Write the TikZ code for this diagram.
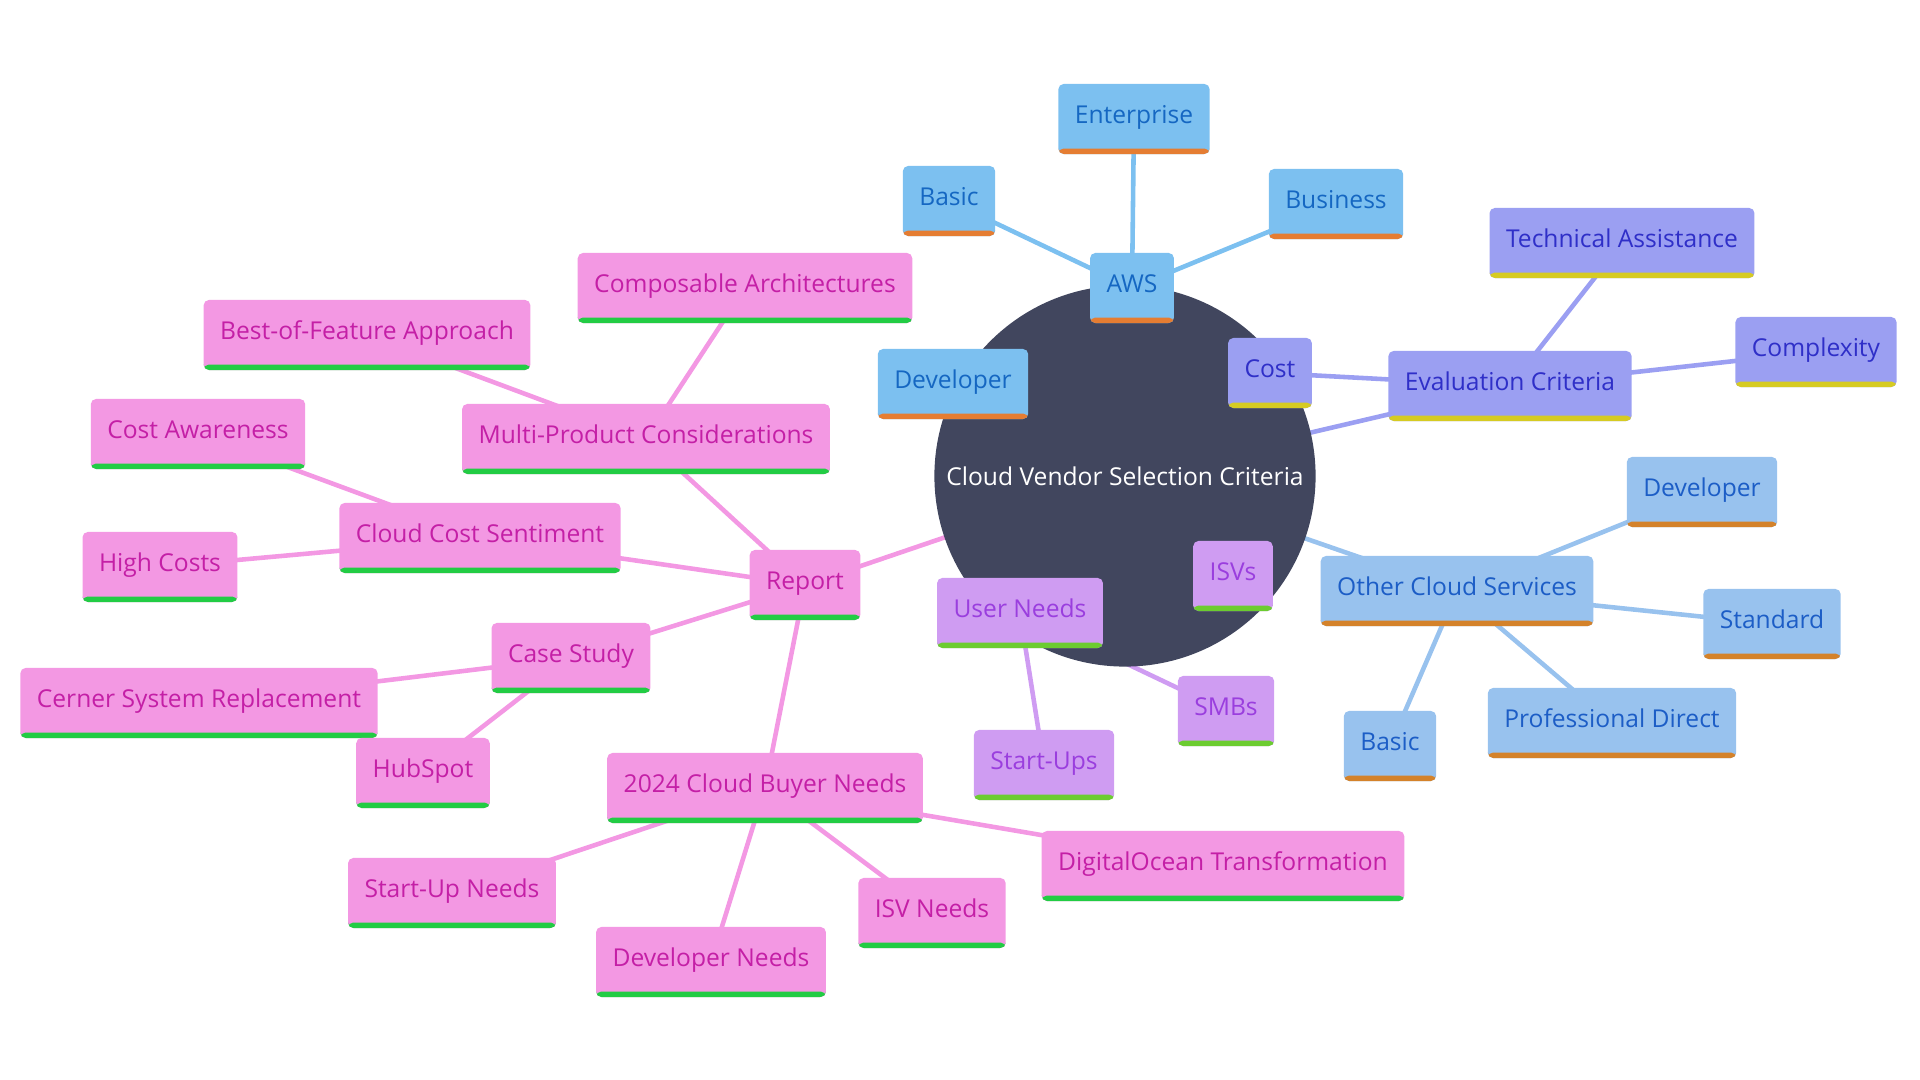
\documentclass[tikz,border=0pt]{standalone}
\usepackage{fontspec}
\setmainfont{Open Sans}
\usetikzlibrary{backgrounds}
\definecolor{rootbg}{HTML}{41465E}
\definecolor{awsfill}{HTML}{7CC0F0}
\definecolor{awstext}{HTML}{1567C2}
\definecolor{awsbar}{HTML}{E57D32}
\definecolor{evalfill}{HTML}{9B9FF2}
\definecolor{evaltext}{HTML}{2F2FC8}
\definecolor{evalbar}{HTML}{D6CB22}
\definecolor{othfill}{HTML}{98C2EE}
\definecolor{othtext}{HTML}{1C5DC6}
\definecolor{othbar}{HTML}{D4822A}
\definecolor{userfill}{HTML}{CF9CF2}
\definecolor{usertext}{HTML}{9A3EDE}
\definecolor{userbar}{HTML}{6CCC30}
\definecolor{repfill}{HTML}{F398E3}
\definecolor{reptext}{HTML}{C41FA6}
\definecolor{repbar}{HTML}{22CC44}

\begin{document}
\begin{tikzpicture}[x=0.01cm, y=-0.01cm, every node/.style={font=\fontsize{7pt}{8.4pt}\selectfont},
      box/.style={rounded corners=1.5pt, minimum height=0.7cm, inner xsep=0.165cm, inner ysep=0pt, text depth=0.09cm},
      bar/.style={path picture={\fill[#1] ([yshift=0.055cm]path picture bounding box.south west) rectangle (path picture bounding box.south east);}},
      aws/.style={box, fill=awsfill, text=awstext, bar=awsbar},
      eval/.style={box, fill=evalfill, text=evaltext, bar=evalbar},
      oth/.style={box, fill=othfill, text=othtext, bar=othbar},
      user/.style={box, fill=userfill, text=usertext, bar=userbar},
      rep/.style={box, fill=repfill, text=reptext, bar=repbar},
      root/.style={circle, fill=rootbg, text=white, minimum size=3.81cm, inner sep=0pt},
      link/.style={line width=1.3pt}]
    \useasboundingbox (0,0) rectangle (1920,1080);
    \node[root] (root) at (1125,476) {Cloud Vendor Selection Criteria};
    % AWS
    \node[aws] (aws) at (1132,288) {AWS};
    \node[aws] (awsent) at (1134,119) {Enterprise};
    \node[aws] (awsbasic) at (949,201) {Basic};
    \node[aws] (awsbiz) at (1336,204) {Business};
    \node[aws] (awsdev) at (953,384) {Developer};
    % evaluation
    \node[eval] (eval) at (1510,386) {Evaluation Criteria};
    \node[eval] (cost) at (1270,373) {Cost};
    \node[eval] (tech) at (1622,243) {Technical Assistance};
    \node[eval] (cplx) at (1816,352) {Complexity};
    % other cloud services
    \node[oth] (oth) at (1457,591) {Other Cloud Services};
    \node[oth] (othdev) at (1702,492) {Developer};
    \node[oth] (othstd) at (1772,624) {Standard};
    \node[oth] (othpro) at (1612,723) {Professional Direct};
    \node[oth] (othbasic) at (1390,746) {Basic};
    % user needs
    \node[user] (users) at (1020,613) {User Needs};
    \node[user] (isvs) at (1233,576) {ISVs};
    \node[user] (smbs) at (1226,711) {SMBs};
    \node[user] (startups) at (1044,765) {Start-Ups};
    % report
    \node[rep] (report) at (805,585) {Report};
    \node[rep] (multi) at (646,439) {Multi-Product Considerations};
    \node[rep] (compo) at (745,288) {Composable Architectures};
    \node[rep] (bestof) at (367,335) {Best-of-Feature Approach};
    \node[rep] (costsent) at (480,538) {Cloud Cost Sentiment};
    \node[rep] (costaw) at (198,434) {Cost Awareness};
    \node[rep] (highcost) at (160,567) {High Costs};
    \node[rep] (case) at (571,658) {Case Study};
    \node[rep] (cerner) at (199,703) {Cerner System Replacement};
    \node[rep] (hubspot) at (423,773) {HubSpot};
    \node[rep] (buyer) at (765,788) {2024 Cloud Buyer Needs};
    \node[rep] (suneeds) at (452,893) {Start-Up Needs};
    \node[rep] (devneeds) at (711,962) {Developer Needs};
    \node[rep] (isvneeds) at (932,913) {ISV Needs};
    \node[rep] (docean) at (1223,866) {DigitalOcean Transformation};
    \begin{scope}[on background layer]
      \draw[link, awsfill] (root.center) -- (aws.center); \draw[link, awsfill] (aws.center) -- (awsent.center);
      \draw[link, awsfill] (aws.center) -- (awsbasic.center); \draw[link, awsfill] (aws.center) -- (awsbiz.center);
      \draw[link, awsfill] (aws.center) -- (awsdev.center);
      \draw[link, evalfill] (root.center) -- (eval.center); \draw[link, evalfill] (eval.center) -- (cost.center);
      \draw[link, evalfill] (eval.center) -- (tech.center); \draw[link, evalfill] (eval.center) -- (cplx.center);
      \draw[link, othfill] (root.center) -- (oth.center); \draw[link, othfill] (oth.center) -- (othdev.center);
      \draw[link, othfill] (oth.center) -- (othstd.center); \draw[link, othfill] (oth.center) -- (othpro.center);
      \draw[link, othfill] (oth.center) -- (othbasic.center);
      \draw[link, userfill] (root.center) -- (users.center); \draw[link, userfill] (users.center) -- (isvs.center);
      \draw[link, userfill] (users.center) -- (smbs.center); \draw[link, userfill] (users.center) -- (startups.center);
      \draw[link, repfill] (root.center) -- (report.center); \draw[link, repfill] (report.center) -- (multi.center);
      \draw[link, repfill] (multi.center) -- (compo.center); \draw[link, repfill] (multi.center) -- (bestof.center);
      \draw[link, repfill] (report.center) -- (costsent.center); \draw[link, repfill] (costsent.center) -- (costaw.center);
      \draw[link, repfill] (costsent.center) -- (highcost.center); \draw[link, repfill] (report.center) -- (case.center);
      \draw[link, repfill] (case.center) -- (cerner.center); \draw[link, repfill] (case.center) -- (hubspot.center);
      \draw[link, repfill] (report.center) -- (buyer.center); \draw[link, repfill] (buyer.center) -- (suneeds.center);
      \draw[link, repfill] (buyer.center) -- (devneeds.center); \draw[link, repfill] (buyer.center) -- (isvneeds.center);
      \draw[link, repfill] (buyer.center) -- (docean.center);
    \end{scope}
  \end{tikzpicture}
\end{document}
